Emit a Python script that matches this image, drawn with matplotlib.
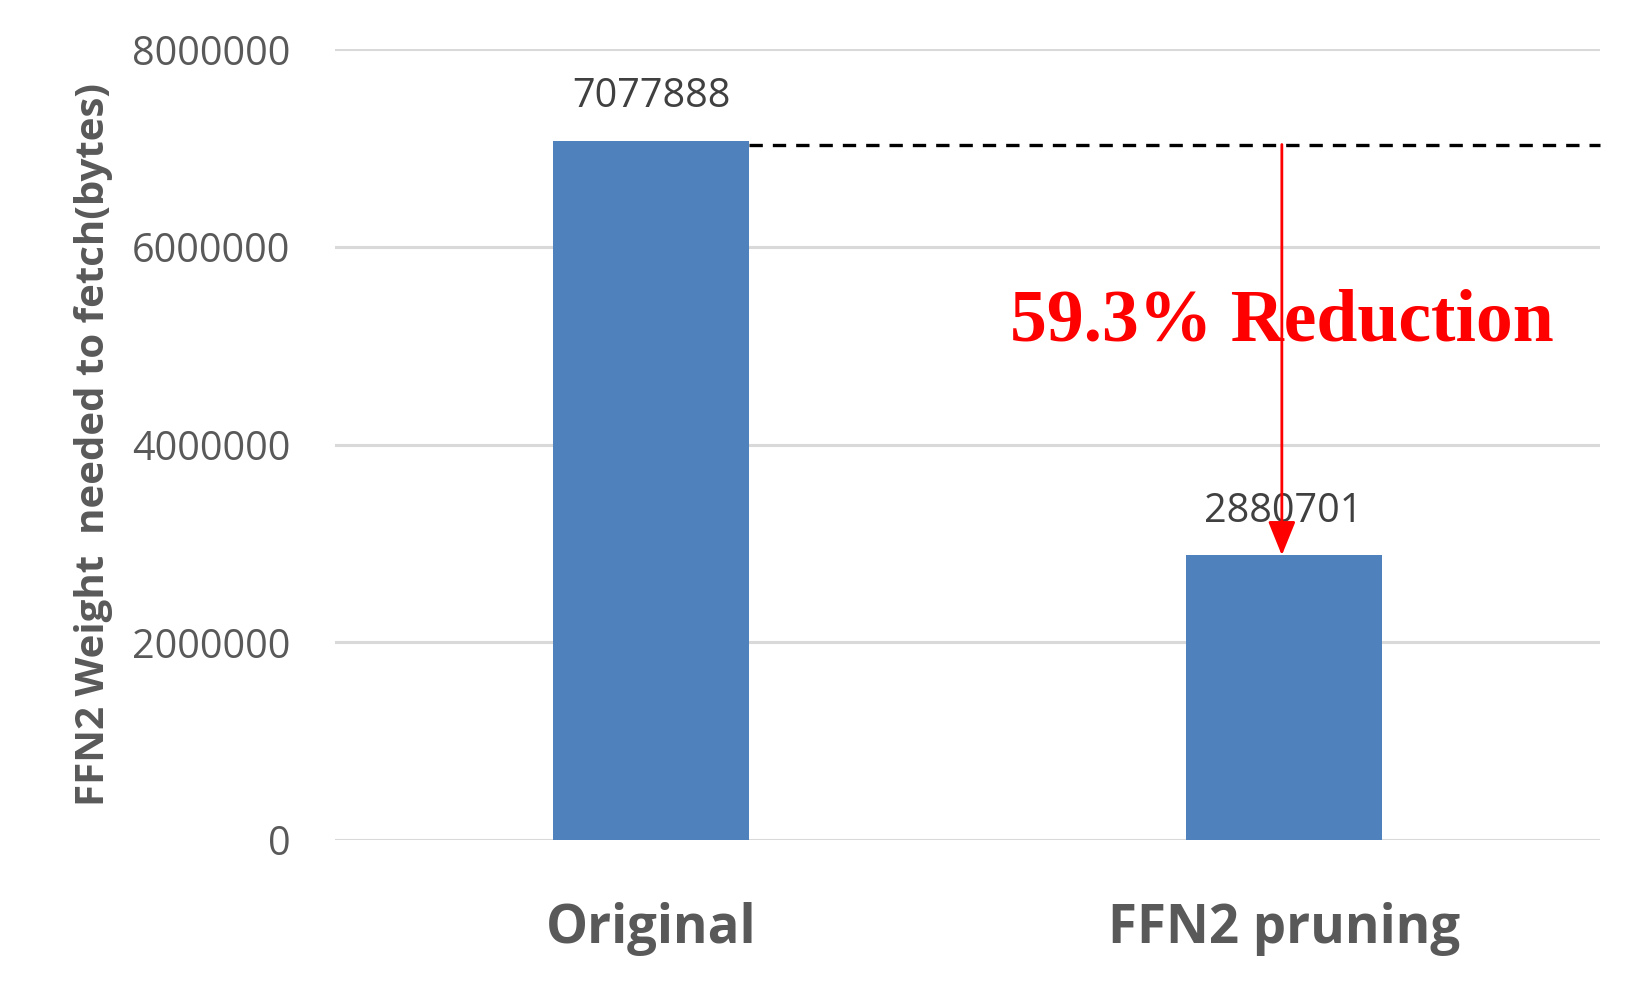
import numpy as np
import matplotlib.pyplot as plt

categories = ["Original", "FFN2 pruning"]
values = [7077888, 2880701]
y_ticks = [0, 2000000, 4000000, 6000000, 8000000]
reduction_text = "59.3% Reduction"
y_label = "FFN2 Weight  needed to fetch(bytes)"

fig = plt.figure(figsize=(16.5, 9.89), dpi=100)
ax = fig.add_axes([0.203, 0.1507, 0.7667, 0.7993])

x = np.arange(len(categories))
ax.bar(x, values, width=0.31, color="#4f81bd", zorder=3)

ax.set_xlim(-0.5, 1.5)
ax.set_ylim(0, 8000000)
ax.set_yticks(y_ticks)
ax.set_yticklabels([str(t) for t in y_ticks], fontsize=28.5, color="#595959",
                   family="Open Sans")
ax.set_xticks(x)
ax.set_xticklabels(categories, fontsize=38, fontweight="bold", color="#595959",
                   family="Open Sans")
ax.tick_params(axis="both", length=0)
ax.tick_params(axis="y", pad=32)
ax.tick_params(axis="x", pad=45)
ax.grid(axis="y", color="#d9d9d9", linewidth=2.2, zorder=0)
ax.set_axisbelow(True)
for s in ax.spines.values():
    s.set_visible(False)

ax.set_ylabel(y_label, fontsize=29, fontweight="bold", color="#595959",
              family="Open Sans", labelpad=14)

# value labels
for xi, v in zip(x, values):
    ax.text(xi, v + 240000, str(v), ha="center", va="bottom", fontsize=28.5,
            color="#404040", family="Open Sans")

# dashed reference line from top of first bar
ax.plot([x[0] + 0.155, 1.5], [values[0] - 40000, values[0] - 40000], color="black",
        linestyle=(0, (4, 3)), linewidth=2.4, zorder=4, clip_on=False)

# arrow from dashed line down to second bar
ax.annotate("", xy=(x[1] - 0.003, values[1]), xytext=(x[1] - 0.003, values[0] - 40000),
            arrowprops=dict(arrowstyle="-|>,head_length=2.1,head_width=0.85",
                            color="red", lw=2, shrinkA=0, shrinkB=0), zorder=5)

ax.text(x[1] - 0.003, 5240000, reduction_text, ha="center", va="center",
        fontsize=53, fontweight="bold", color="red", family="Liberation Serif",
        zorder=6)

fig.savefig("out.png", dpi=100)
